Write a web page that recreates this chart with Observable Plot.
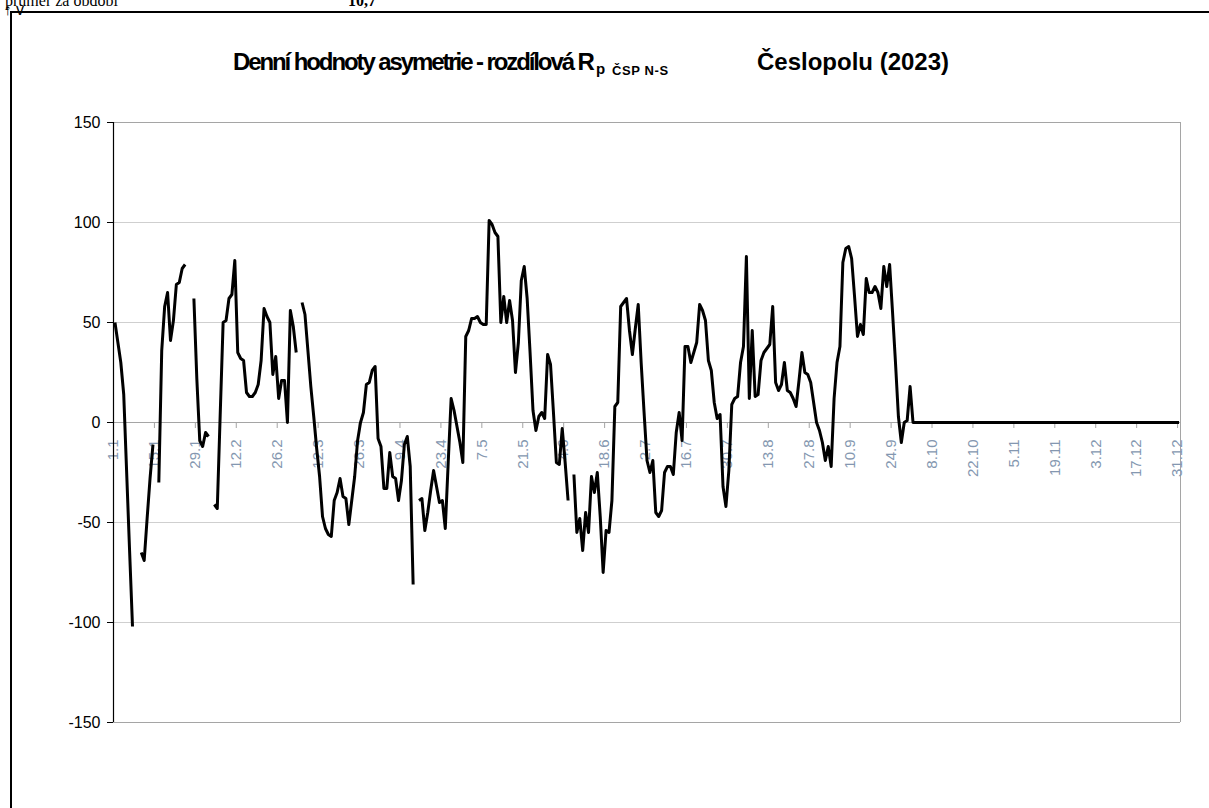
<!DOCTYPE html>
<html><head><meta charset="utf-8">
<script src="https://cdn.jsdelivr.net/npm/d3@7"></script>
<script src="https://cdn.jsdelivr.net/npm/@observablehq/plot@0.6"></script>
<style>
html,body{margin:0;padding:0;background:#fff;}
#wrap{position:relative;width:1209px;height:808px;overflow:hidden;background:#fff;}
#wrap svg{position:absolute;left:0;top:0;}
#sheet{position:absolute;left:0;top:0;width:1209px;height:10px;overflow:hidden;font-family:"Liberation Serif","Times New Roman",serif;font-size:16px;}
#sheet span{position:absolute;top:-8px;white-space:nowrap;}
#box{position:absolute;left:10px;top:11px;width:1220px;height:820px;border-left:2px solid #000;border-top:2px solid #000;}
.t{position:absolute;white-space:nowrap;font-family:"Liberation Sans",Arial,sans-serif;font-weight:bold;color:#000;line-height:1;}
#t1{left:233px;top:50px;font-size:24px;letter-spacing:-2.1px;}
#t2{left:596px;top:61px;font-size:15px;}
#t3{left:612px;top:64px;font-size:13px;letter-spacing:0.6px;}
#t4{left:757px;top:50px;font-size:24px;}
</style>
</head><body>
<div id="wrap">
  <div id="sheet"><span style="left:5px">průměr za období</span><span style="left:348px;font-weight:bold">10,7</span></div>
  <div id="box"></div>
  <div class="t" id="t1">Denní hodnoty asymetrie - rozdílová R</div>
  <div class="t" id="t2">p</div>
  <div class="t" id="t3">ČSP N-S</div>
  <div class="t" id="t4">Česlopolu (2023)</div>
</div>
<script>
// Daily values, 1.1.2023 (index 0) .. 31.12.2023 (index 364); null = missing day
const janValues = [50,40,30,14,-25,-64,-102,null,null,-65,-69,-48,-28,-11,null,-30,36,58,65,41,51,69,70,77,79,null,null,62,22,-9,-12];
const febValues = [-5,-7,null,-41,-43,4,50,51,62,64,81,35,32,31,15,13,13,15,19,31,57,53,50,24,33,12,21,21];
const marValues = [0,56,48,35,null,60,54,36,18,3,-13,-27,-47,-53,-56,-57,-39,-35,-28,-37,-38,-51,-39,-27,-9,0,5,19,20,26,28];
const aprValues = [-8,-12,-33,-33,-15,-27,-28,-39,-29,-11,-7,-22,-81,null,-39,-38,-54,-45,-34,-24,-32,-40,-39,-53,-20,12,6,-2,-10,-20];
const mayValues = [43,46,52,52,53,50,49,49,101,99,95,93,50,63,50,61,51,25,40,71,78,62,35,6,-4,3,5,2,34,29,5];
const junValues = [-20,-21,-3,-20,-39,null,-26,-55,-48,-64,-45,-55,-27,-35,-25,-47,-75,-54,-55,-39,8,10,58,60,62,46,34,47,59,30];
const julValues = [5,-19,-25,-19,-45,-47,-44,-25,-22,-22,-26,-5,5,-9,38,38,30,35,40,59,56,51,31,26,10,2,4,-32,-42,-24,9];
const augValues = [12,13,30,38,83,12,46,13,14,31,35,37,39,58,20,16,19,30,16,15,12,8,21,35,25,24,20,10,0,-4,-10];
const sepValues = [-19,-12,-22,12,30,38,80,87,88,82,63,43,49,44,72,65,65,68,65,57,78,68,79,55,30,3,-10,0,1,18];
const octValues = [0,0,0,0,0,0,0,0,0,0,0,0,0,0,0,0,0,0,0,0,0,0,0,0,0,0,0,0,0,0,0];
const novValues = [0,0,0,0,0,0,0,0,0,0,0,0,0,0,0,0,0,0,0,0,0,0,0,0,0,0,0,0,0,0];
const decValues = [0,0,0,0,0,0,0,0,0,0,0,0,0,0,0,0,0,0,0,0,0,0,0,0,0,0,0,0,0,0,0];

const tickDays = [0,14,28,42,56,70,84,98,112,126,140,154,168,182,196,210,224,238,252,266,280,294,308,322,336,350,364];
const tickLabels = ["1.1","15.1","29.1","12.2","26.2","12.3","26.3","9.4","23.4","7.5","21.5","4.6","18.6","2.7","16.7","30.7","13.8","27.8","10.9","24.9","8.10","22.10","5.11","19.11","3.12","17.12","31.12"];
const yTicks = [-150,-100,-50,0,50,100,150];

const values = [].concat(janValues,febValues,marValues,aprValues,mayValues,junValues,julValues,augValues,sepValues,octValues,novValues,decValues);
const data = values.map((v, i) => ({day: i, v}));
const labelOf = new Map(tickDays.map((d, i) => [d, tickLabels[i]]));

const chart = Plot.plot({
  width: 1209,
  height: 808,
  marginLeft: 113,
  marginRight: 29,
  marginTop: 122,
  marginBottom: 86,
  x: {domain: [0, 365], axis: null},
  y: {domain: [-150, 150], axis: null},
  style: {background: "transparent", fontFamily: "'Liberation Sans', Arial, sans-serif", overflow: "visible"},
  marks: [
    Plot.ruleY(yTicks, {stroke: "#cfcfcf", strokeWidth: 1}),
    Plot.ruleY([yTicks[0], yTicks[yTicks.length - 1]], {stroke: "#a5a5a5", strokeWidth: 1}),
    Plot.ruleX([365], {stroke: "#a5a5a5", strokeWidth: 1}),
    Plot.ruleY([0], {stroke: "#a5a5a5", strokeWidth: 1}),
    Plot.axisX({
      anchor: "bottom",
      dy: -300,
      ticks: tickDays,
      tickFormat: d => labelOf.get(d),
      tickSize: 6,
      tickPadding: 11,
      tickRotate: -90,
      fontSize: 15,
      fill: "#8497b0",
      stroke: "#a5a5a5"
    }),
    Plot.ruleX([0], {stroke: "#000", strokeWidth: 1.2}),
    Plot.axisY({
      ticks: yTicks,
      tickFormat: d => String(d),
      tickSize: 6,
      tickPadding: 7,
      fontSize: 16,
      fill: "#000",
      stroke: "#000"
    }),
    Plot.line(data, {x: d => d.day + 0.5, y: "v", stroke: "#000", strokeWidth: 3, strokeLinejoin: "round", strokeLinecap: "butt"})
  ]
});
document.getElementById("wrap").insertBefore(chart, document.getElementById("t1"));
</script>
</body></html>
